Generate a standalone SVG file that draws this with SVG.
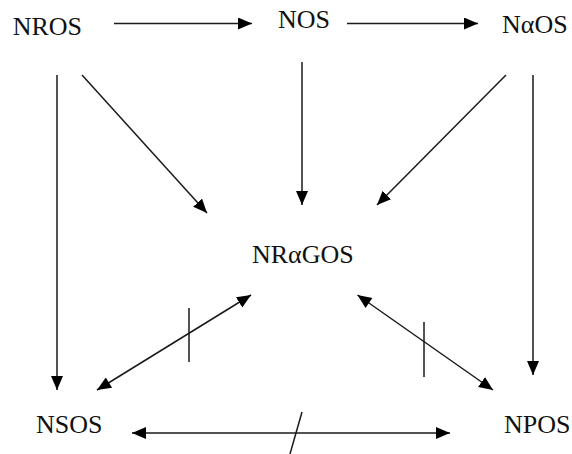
<svg xmlns="http://www.w3.org/2000/svg" width="572" height="454" viewBox="0 0 572 454">
<defs>
<style>
.lbl{font-family:"Liberation Serif","Times New Roman",serif;font-size:26px;fill:#111}
.c{stroke:#1a1a1a;stroke-width:1.5;fill:none}
.e{marker-end:url(#ah)}
.b{marker-start:url(#as);marker-end:url(#ah)}
</style>
<marker id="ah" markerUnits="userSpaceOnUse" markerWidth="16" markerHeight="14" refX="14" refY="6" orient="auto">
<path d="M0,0 L14,6 L0,12 z" fill="#000"/>
</marker>
<marker id="as" markerUnits="userSpaceOnUse" markerWidth="16" markerHeight="14" refX="0" refY="6" orient="auto">
<path d="M14,0 L0,6 L14,12 z" fill="#000"/>
</marker>
</defs>
<rect width="572" height="454" fill="#fff"/>
<g id="connectors">
<line class="c e" x1="114" y1="23.5" x2="252" y2="23.5"/>
<line class="c e" x1="347" y1="23.5" x2="478" y2="23.5"/>
<line class="c e" x1="57" y1="75" x2="57" y2="390"/>
<line class="c e" x1="82" y1="75" x2="207" y2="213"/>
<line class="c e" x1="302" y1="62" x2="302" y2="205"/>
<line class="c e" x1="506" y1="75" x2="377" y2="205"/>
<line class="c e" x1="533" y1="75" x2="533" y2="375"/>
<line class="c b" x1="97" y1="390" x2="251" y2="295"/>
<line class="c b" x1="357.5" y1="295" x2="493" y2="390"/>
<line class="c b" x1="132" y1="433" x2="450" y2="433"/>
<line class="c" x1="189" y1="308" x2="189" y2="362"/>
<line class="c" x1="424" y1="322" x2="424" y2="377"/>
<line class="c" x1="302" y1="412" x2="290" y2="454"/>
</g>
<g id="NROS"><text class="lbl" x="12.7" y="35">NROS</text></g>
<g id="NOS"><text class="lbl" x="278" y="28">NOS</text></g>
<g id="NaOS"><text class="lbl" x="502" y="33">NαOS</text></g>
<g id="NRaGOS"><text class="lbl" x="252" y="263">NRαGOS</text></g>
<g id="NSOS"><text class="lbl" x="36" y="433">NSOS</text></g>
<g id="NPOS"><text class="lbl" x="504" y="433">NPOS</text></g>
</svg>
